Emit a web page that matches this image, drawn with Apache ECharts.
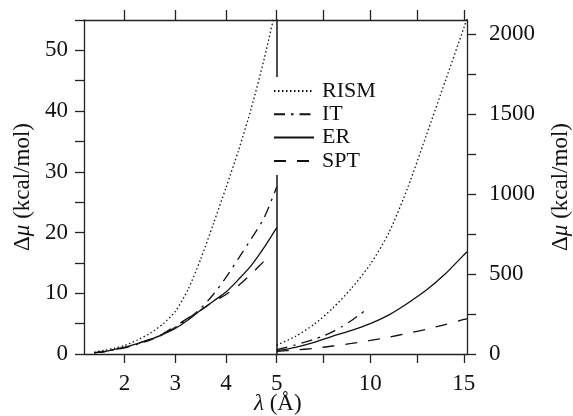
<!DOCTYPE html>
<html>
<head>
<meta charset="utf-8">
<script src="https://cdn.jsdelivr.net/npm/echarts@6/dist/echarts.min.js"></script>
<style>
  html, body { margin: 0; padding: 0; background: #fff; }
  #chart { width: 573px; height: 416px; }
</style>
</head>
<body>
<div id="chart"></div>
<script>
// left panel: lambda 1.4 - 5 A, kcal/mol
var lamLeft = [1.4, 1.6, 1.8, 2.0, 2.25, 2.5, 2.75, 3.0, 3.25, 3.5, 3.75, 4.0, 4.25, 4.5, 4.75, 5.0];
var rismLeft = [0.3, 0.6, 0.95, 1.4, 2.3, 3.4, 4.9, 7.0, 10.6, 15.6, 21.4, 27.4, 33.6, 40.5, 48.5, 57.5];
var itLeft = [0.2, 0.4, 0.7, 1.0, 1.6, 2.3, 3.2, 4.4, 5.8, 7.5, 9.8, 12.6, 15.8, 19.0, 22.4, 27.5];
var erLeft = [0.2, 0.4, 0.75, 1.1, 1.7, 2.4, 3.2, 4.2, 5.6, 7.2, 8.7, 10.2, 12.3, 14.6, 17.5, 20.8];
var lamSptLeft = [1.4, 1.6, 1.8, 2.0, 2.25, 2.5, 2.75, 3.0, 3.25, 3.5, 3.75, 4.0, 4.25, 4.5, 4.75];
var sptLeft = [0.2, 0.4, 0.75, 1.1, 1.7, 2.4, 3.3, 4.6, 5.9, 7.2, 8.6, 9.8, 11.3, 13.2, 15.3];

// right panel: lambda 5 - 15 A
var lamRight = [5, 6, 7, 8, 9, 10, 11, 12, 13, 14, 15, 15.17];
var rismRight = [55, 110, 186, 287, 412, 561, 760, 1040, 1370, 1705, 2040, 2097];
var erRight = [20, 42, 73, 112, 148, 190, 245, 318, 400, 500, 620, 640];
var sptRight = [17, 25, 35, 50, 66, 85, 106, 129, 155, 184, 216, 222];
var lamItRight = [5, 5.5, 6, 6.5, 7, 7.5, 8, 8.5, 9, 9.5, 9.75];
var itRight = [28, 42, 57, 74, 92, 113, 140, 172, 210, 252, 276];

// ticks
var xTicksLeft = [2, 3, 4, 5];
var xTicksRight = [7.5, 10, 12.5, 15];
var xLabelsRight = [10, 15];
var yTicksLeft = [0, 5, 10, 15, 20, 25, 30, 35, 40, 45, 50, 55];
var yLabelsLeft = [0, 10, 20, 30, 40, 50];
var yTicksRight = [0, 250, 500, 750, 1000, 1250, 1500, 1750, 2000];
var yLabelsRight = [0, 500, 1000, 1500, 2000];

var names = ['RISM', 'IT', 'ER', 'SPT'];

function pairs(xs, ys) {
    return xs.map(function (x, i) { return [x, ys[i]]; });
}

var ink = '#111';
var font = '"Liberation Serif", "Times New Roman", Times, serif';
var lineW = 1.3;
var styles = {
    RISM: [1.5, 2.5],
    IT: [11, 6, 2.5, 6],
    ER: 'solid',
    SPT: [12, 11]
};

function axisBase(extra) {
    var a = {
        type: 'value',
        axisLine: { show: true, onZero: false, lineStyle: { color: '#222', width: 1.3 } },
        axisTick: { show: true, inside: false, length: 9, lineStyle: { color: '#222', width: 1.3 } },
        axisLabel: { show: false },
        splitLine: { show: false }
    };
    for (var k in extra) a[k] = extra[k];
    return a;
}

function line(name, data, xi, yi) {
    return {
        name: name,
        type: 'line',
        xAxisIndex: xi,
        yAxisIndex: yi,
        data: data,
        smooth: 0.25,
        symbol: 'none',
        animation: false,
        lineStyle: { color: ink, width: lineW, type: styles[name], cap: 'butt' },
        itemStyle: { color: ink }
    };
}

function plain(v) { return String(v); }

var tickLabel = { show: true, color: ink, fontFamily: font, fontSize: 23, formatter: plain };

var nameStyle = {
    color: ink, fontFamily: font, fontSize: 23,
    rich: { i: { fontStyle: 'italic', fontFamily: font, fontSize: 23, color: ink } }
};

var option = {
    animation: false,
    backgroundColor: '#fff',
    title: {
        text: '{i|λ} (Å)',
        left: 254,
        top: 392,
        padding: 0,
        textStyle: {
            color: ink, fontFamily: font, fontSize: 23, fontWeight: 'normal',
            rich: { i: { fontStyle: 'italic', fontFamily: font, fontSize: 23, color: ink } }
        }
    },
    legend: {
        data: names,
        orient: 'vertical',
        left: 270,
        top: 77,
        padding: [3, 4, 3, 3],
        itemWidth: 40,
        itemHeight: 14,
        itemGap: 1.3,
        backgroundColor: '#fff',
        selectedMode: false,
        itemStyle: { color: 'rgba(0,0,0,0)', borderWidth: 0, opacity: 0 },
        textStyle: { color: ink, fontFamily: font, fontSize: 22, padding: [0, 0, 0, 3] }
    },
    grid: [
        { left: 84, right: 296.3, top: 20, bottom: 62 },
        { left: 276.7, right: 104.7, top: 20, bottom: 62 }
    ],
    xAxis: [
        axisBase({
            gridIndex: 0, position: 'bottom', min: 1.2, max: 5,
            axisTick: { show: true, length: 9, customValues: xTicksLeft, lineStyle: { color: '#222', width: 1.3 } },
            axisLabel: Object.assign({ margin: 18, customValues: xTicksLeft }, tickLabel)
        }),
        axisBase({
            gridIndex: 1, position: 'bottom', min: 5, max: 15.17,
            axisTick: { show: true, length: 9, customValues: xTicksRight, lineStyle: { color: '#222', width: 1.3 } },
            axisLabel: Object.assign({ margin: 18, customValues: xLabelsRight }, tickLabel)
        }),
        axisBase({
            gridIndex: 0, position: 'top', min: 1.2, max: 5,
            axisTick: { show: true, length: 10, customValues: xTicksLeft, lineStyle: { color: '#222', width: 1.3 } }
        }),
        axisBase({
            gridIndex: 1, position: 'top', min: 5, max: 15.17,
            axisTick: { show: true, length: 10, customValues: xTicksRight, lineStyle: { color: '#222', width: 1.3 } }
        })
    ],
    yAxis: [
        axisBase({
            gridIndex: 0, position: 'left', min: 0, max: 55,
            axisTick: { show: true, length: 9, customValues: yTicksLeft, lineStyle: { color: '#222', width: 1.3 } },
            axisLabel: Object.assign({ margin: 16, customValues: yLabelsLeft }, tickLabel),
            name: 'Δ{i|μ} (kcal/mol)',
            nameLocation: 'middle',
            nameRotate: 90,
            nameGap: 50,
            nameTextStyle: nameStyle
        }),
        axisBase({
            gridIndex: 1, position: 'right', min: 0, max: 2090,
            axisTick: { show: true, length: 9, customValues: yTicksRight, lineStyle: { color: '#222', width: 1.3 } },
            axisLabel: Object.assign({ margin: 22, customValues: yLabelsRight }, tickLabel),
            name: 'Δ{i|μ} (kcal/mol)',
            nameLocation: 'middle',
            nameRotate: 90,
            nameGap: 82,
            nameTextStyle: nameStyle
        }),
        // divider between the two panels
        axisBase({
            gridIndex: 0, position: 'right', min: 0, max: 55,
            axisLine: { show: true, onZero: false, lineStyle: { color: '#222', width: 1.6 } },
            axisTick: { show: false }
        })
    ],
    series: [
        line('RISM', pairs(lamLeft, rismLeft), 0, 0),
        line('IT', pairs(lamLeft, itLeft), 0, 0),
        line('ER', pairs(lamLeft, erLeft), 0, 0),
        line('SPT', pairs(lamSptLeft, sptLeft), 0, 0),
        line('RISM', pairs(lamRight, rismRight), 1, 1),
        line('IT', pairs(lamItRight, itRight), 1, 1),
        line('ER', pairs(lamRight, erRight), 1, 1),
        line('SPT', pairs(lamRight, sptRight), 1, 1)
    ]
};

var chart = echarts.init(document.getElementById('chart'), null, { renderer: 'canvas' });
chart.setOption(option);
</script>
</body>
</html>
